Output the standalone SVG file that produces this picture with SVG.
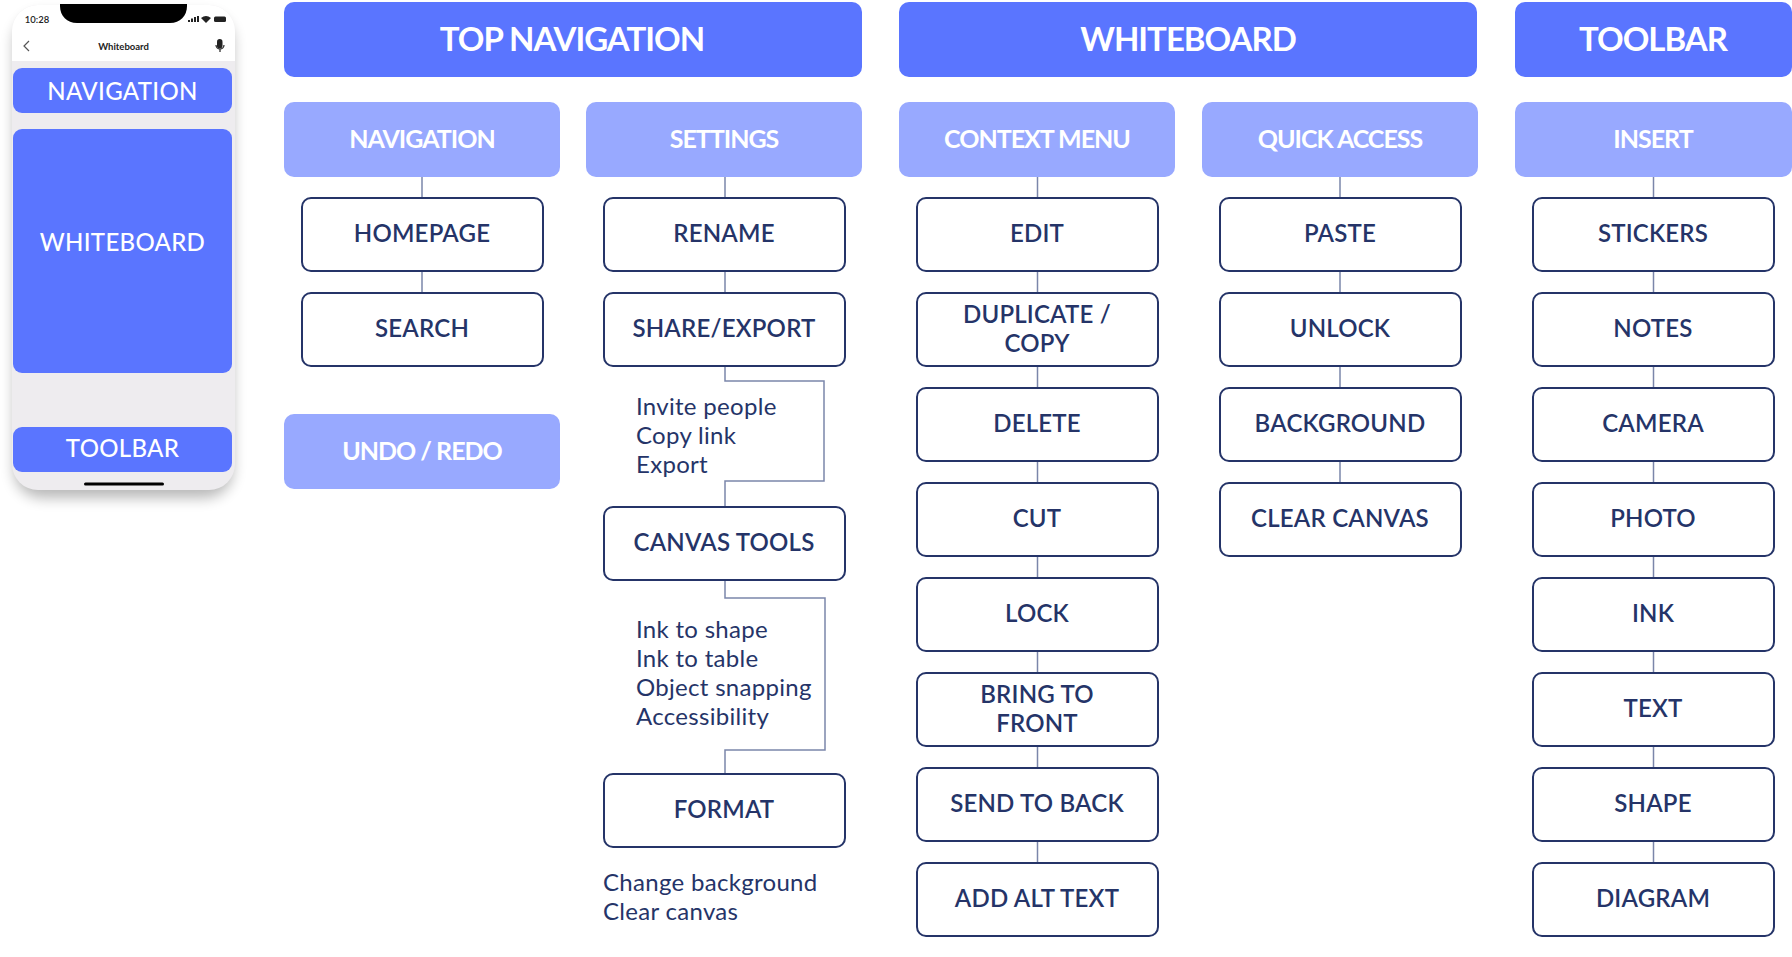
<svg xmlns="http://www.w3.org/2000/svg" width="1792" height="957" viewBox="0 0 1792 957">
<style>
text{font-family:"Lato","Liberation Sans",sans-serif;text-anchor:middle}
.h1 rect{fill:#5a75ff}
.h1 text{fill:#fff;font-size:33px;font-weight:700;letter-spacing:-1px}
.h2 rect{fill:#98a9ff}
.h2 text{fill:#fff;font-size:25px;font-weight:700;letter-spacing:-1px}
.n rect{fill:#fff;stroke:#253468;stroke-width:2}
.n text{fill:#253468;font-size:24px;font-weight:600;letter-spacing:.2px}
.note text{fill:#253468;font-size:24px;font-weight:400;text-anchor:start;letter-spacing:.3px}
.p rect{fill:#5a75ff}
.p text{fill:#fff;font-size:24px;font-weight:500;letter-spacing:.3px}
#connectors path{fill:none;stroke:#7b86aa;stroke-width:1.5}
</style>
<defs>
<filter id="soft" x="-20%" y="-20%" width="140%" height="140%"><feGaussianBlur stdDeviation="7"/></filter>
</defs>

<g id="phone">
<rect x="14" y="14" width="219" height="484" rx="28" fill="#000" opacity=".28" filter="url(#soft)"/>
<rect x="12" y="5" width="223" height="485" rx="26" fill="#eeecef"/>
<path d="M12 61V31a26 26 0 0 1 26-26H209a26 26 0 0 1 26 26V61Z" fill="#fff"/>
<path d="M60 4H187V6C187 16 180 23 170 23H77C67 23 60 16 60 6Z" fill="#000"/>
<text x="37" y="23" style="font-size:9.5px;font-weight:600" fill="#222">10:28</text>
<g fill="#222">
<rect x="188" y="20" width="2" height="2"/><rect x="191" y="18.500" width="2" height="3.500"/><rect x="194" y="17" width="2" height="5"/><rect x="197" y="16" width="2" height="6"/>
<path d="M201 18a8 8 0 0 1 10 0l-5 5Z"/>
<rect x="214" y="16.500" width="12" height="5.500" rx="1.500"/>
</g>
<path d="M29 41l-5 5 5 5" fill="none" stroke="#555" stroke-width="1.200"/>
<text x="123.500" y="50" style="font-size:9.500px;font-weight:700" fill="#222">Whiteboard</text>
<rect x="217" y="39" width="5.500" height="9.500" rx="2.700" fill="#222"/>
<path d="M216 45a4 4 0 0 0 8 0M220 49v3" fill="none" stroke="#222" stroke-width="1.200"/>
<g class="p"><rect x="13" y="68" width="219" height="45" rx="9"/><text x="122.500" y="100">NAVIGATION</text></g>
<g class="p"><rect x="13" y="129" width="219" height="244" rx="9"/><text x="122.500" y="251">WHITEBOARD</text></g>
<g class="p"><rect x="13" y="427" width="219" height="45" rx="9"/><text x="122.500" y="457">TOOLBAR</text></g>
<rect x="84" y="482.500" width="80" height="3" rx="1.500" fill="#000"/>
</g>

<g id="connectors">
<path d="M422 177V198M422 271V293"/>
<path d="M725 177V198M725 271V293"/>
<path d="M725 366V381H824V481H725V507"/>
<path d="M725 580V598H825V750H725V774"/>
<path d="M1037.500 177V198M1037.500 271V293M1037.500 366V388M1037.500 461V483M1037.500 556V578M1037.500 651V673M1037.500 746V768M1037.500 841V863"/>
<path d="M1340 177V198M1340 271V293M1340 366V388M1340 461V483"/>
<path d="M1653.500 177V198M1653.500 271V293M1653.500 366V388M1653.500 461V483M1653.500 556V578M1653.500 651V673M1653.500 746V768M1653.500 841V863"/>
</g>

<g id="top-navigation" class="h1"><rect x="284" y="2" width="578" height="75" rx="10"/><text x="572" y="51">TOP NAVIGATION</text></g>
<g id="whiteboard" class="h1"><rect x="899" y="2" width="578" height="75" rx="10"/><text x="1188" y="51">WHITEBOARD</text></g>
<g id="toolbar" class="h1"><rect x="1515" y="2" width="277" height="75" rx="10"/><text x="1653" y="51">TOOLBAR</text></g>

<g id="navigation" class="h2"><rect x="284" y="102" width="276" height="75" rx="10"/><text x="422" y="148">NAVIGATION</text></g>
<g id="settings" class="h2"><rect x="586" y="102" width="276" height="75" rx="10"/><text x="724" y="148">SETTINGS</text></g>
<g id="context-menu" class="h2"><rect x="899" y="102" width="276" height="75" rx="10"/><text x="1037" y="148">CONTEXT MENU</text></g>
<g id="quick-access" class="h2"><rect x="1202" y="102" width="276" height="75" rx="10"/><text x="1340" y="148">QUICK ACCESS</text></g>
<g id="insert" class="h2"><rect x="1515" y="102" width="277" height="75" rx="10"/><text x="1653" y="148">INSERT</text></g>
<g id="undo-redo" class="h2"><rect x="284" y="414" width="276" height="75" rx="10"/><text x="422" y="460">UNDO / REDO</text></g>

<g id="homepage" class="n"><rect x="302" y="198" width="241" height="73" rx="9"/><text x="422" y="242">HOMEPAGE</text></g>
<g id="search" class="n"><rect x="302" y="293" width="241" height="73" rx="9"/><text x="422" y="337">SEARCH</text></g>

<g id="rename" class="n"><rect x="604" y="198" width="241" height="73" rx="9"/><text x="724" y="242">RENAME</text></g>
<g id="share-export" class="n"><rect x="604" y="293" width="241" height="73" rx="9"/><text x="724" y="337">SHARE/EXPORT</text></g>
<g id="share-notes" class="note"><text x="636" y="415">Invite people</text><text x="636" y="444">Copy link</text><text x="636" y="473">Export</text></g>
<g id="canvas-tools" class="n"><rect x="604" y="507" width="241" height="73" rx="9"/><text x="724" y="551">CANVAS TOOLS</text></g>
<g id="canvas-notes" class="note"><text x="636" y="638">Ink to shape</text><text x="636" y="667">Ink to table</text><text x="636" y="696">Object snapping</text><text x="636" y="725">Accessibility</text></g>
<g id="format" class="n"><rect x="604" y="774" width="241" height="73" rx="9"/><text x="724" y="818">FORMAT</text></g>
<g id="format-notes" class="note"><text x="603" y="891">Change background</text><text x="603" y="920">Clear canvas</text></g>

<g id="edit" class="n"><rect x="917" y="198" width="241" height="73" rx="9"/><text x="1037" y="242">EDIT</text></g>
<g id="duplicate-copy" class="n"><rect x="917" y="293" width="241" height="73" rx="9"/><text x="1037" y="323">DUPLICATE /</text><text x="1037" y="352">COPY</text></g>
<g id="delete" class="n"><rect x="917" y="388" width="241" height="73" rx="9"/><text x="1037" y="432">DELETE</text></g>
<g id="cut" class="n"><rect x="917" y="483" width="241" height="73" rx="9"/><text x="1037" y="527">CUT</text></g>
<g id="lock" class="n"><rect x="917" y="578" width="241" height="73" rx="9"/><text x="1037" y="622">LOCK</text></g>
<g id="bring-to-front" class="n"><rect x="917" y="673" width="241" height="73" rx="9"/><text x="1037" y="703">BRING TO</text><text x="1037" y="732">FRONT</text></g>
<g id="send-to-back" class="n"><rect x="917" y="768" width="241" height="73" rx="9"/><text x="1037" y="812">SEND TO BACK</text></g>
<g id="add-alt-text" class="n"><rect x="917" y="863" width="241" height="73" rx="9"/><text x="1037" y="907">ADD ALT TEXT</text></g>

<g id="paste" class="n"><rect x="1220" y="198" width="241" height="73" rx="9"/><text x="1340" y="242">PASTE</text></g>
<g id="unlock" class="n"><rect x="1220" y="293" width="241" height="73" rx="9"/><text x="1340" y="337">UNLOCK</text></g>
<g id="background" class="n"><rect x="1220" y="388" width="241" height="73" rx="9"/><text x="1340" y="432">BACKGROUND</text></g>
<g id="clear-canvas" class="n"><rect x="1220" y="483" width="241" height="73" rx="9"/><text x="1340" y="527">CLEAR CANVAS</text></g>

<g id="stickers" class="n"><rect x="1533" y="198" width="241" height="73" rx="9"/><text x="1653" y="242">STICKERS</text></g>
<g id="notes" class="n"><rect x="1533" y="293" width="241" height="73" rx="9"/><text x="1653" y="337">NOTES</text></g>
<g id="camera" class="n"><rect x="1533" y="388" width="241" height="73" rx="9"/><text x="1653" y="432">CAMERA</text></g>
<g id="photo" class="n"><rect x="1533" y="483" width="241" height="73" rx="9"/><text x="1653" y="527">PHOTO</text></g>
<g id="ink" class="n"><rect x="1533" y="578" width="241" height="73" rx="9"/><text x="1653" y="622">INK</text></g>
<g id="text" class="n"><rect x="1533" y="673" width="241" height="73" rx="9"/><text x="1653" y="717">TEXT</text></g>
<g id="shape" class="n"><rect x="1533" y="768" width="241" height="73" rx="9"/><text x="1653" y="812">SHAPE</text></g>
<g id="diagram" class="n"><rect x="1533" y="863" width="241" height="73" rx="9"/><text x="1653" y="907">DIAGRAM</text></g>
</svg>
